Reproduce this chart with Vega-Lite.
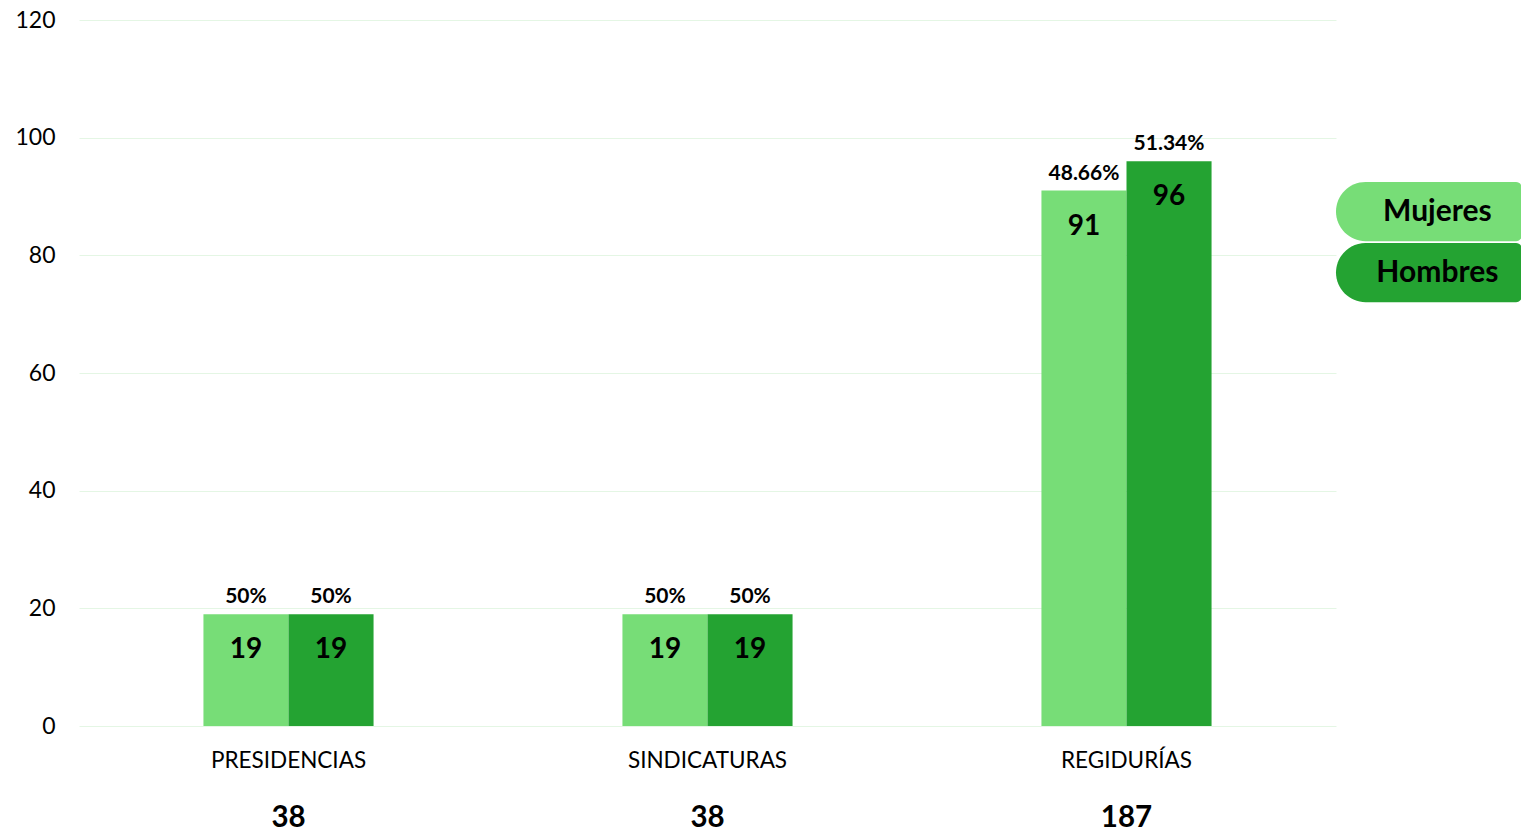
{
  "$schema": "https://vega.github.io/schema/vega-lite/v6.json",
  "background": "white",
  "padding": {"left": 14, "top": 9, "right": 0, "bottom": 0},
  "spacing": 0,
  "config": {
    "view": {"stroke": null},
    "font": "Lato",
    "text": {"font": "Lato"},
    "axis": {"labelFont": "Lato", "labelColor": "black"}
  },
  "datasets": {
    "main": [
      {"cargo": "PRESIDENCIAS", "sexo": "Mujeres", "valor": 19, "pct": 0.5},
      {"cargo": "PRESIDENCIAS", "sexo": "Hombres", "valor": 19, "pct": 0.5},
      {"cargo": "SINDICATURAS", "sexo": "Mujeres", "valor": 19, "pct": 0.5},
      {"cargo": "SINDICATURAS", "sexo": "Hombres", "valor": 19, "pct": 0.5},
      {"cargo": "REGIDURÍAS", "sexo": "Mujeres", "valor": 91, "pct": 0.4866},
      {"cargo": "REGIDURÍAS", "sexo": "Hombres", "valor": 96, "pct": 0.5134}
    ],
    "leyenda": [
      {"sexo": "Mujeres"},
      {"sexo": "Hombres"}
    ]
  },
  "hconcat": [
    {
      "width": 1257,
      "height": 706,
      "data": {"name": "main"},
      "encoding": {
        "x": {
          "field": "cargo", "type": "nominal",
          "sort": ["PRESIDENCIAS", "SINDICATURAS", "REGIDURÍAS"],
          "scale": {"paddingInner": 0.594, "paddingOuter": 0.297},
          "axis": {"title": null, "labelAngle": 0, "ticks": false, "domain": false, "labelFontSize": 22.5, "labelPadding": 23, "grid": false}
        }
      },
      "layer": [
        {
          "mark": {"type": "bar"},
          "encoding": {
            "xOffset": {"field": "sexo", "type": "nominal", "sort": ["Mujeres", "Hombres"], "scale": {"paddingInner": 0, "paddingOuter": 0}},
            "y": {
              "field": "valor", "type": "quantitative",
              "scale": {"domain": [0, 120], "nice": false},
              "axis": {"title": null, "values": [0, 20, 40, 60, 80, 100, 120], "domain": false, "ticks": false, "labelFontSize": 23, "labelPadding": 24, "gridColor": "#e4f6e4", "gridWidth": 1}
            },
            "color": {
              "field": "sexo", "type": "nominal",
              "scale": {"domain": ["Mujeres", "Hombres"], "range": ["#77dd77", "#24a332"]},
              "legend": null
            }
          }
        },
        {
          "mark": {"type": "text", "fontSize": 28, "fontWeight": "bold", "color": "black", "baseline": "middle", "dy": 36},
          "encoding": {
            "xOffset": {"field": "sexo", "type": "nominal", "sort": ["Mujeres", "Hombres"]},
            "y": {"field": "valor", "type": "quantitative"},
            "text": {"field": "valor", "type": "quantitative"}
          }
        },
        {
          "mark": {"type": "text", "fontSize": 21, "fontWeight": "bold", "color": "black", "baseline": "middle", "dy": -17},
          "encoding": {
            "xOffset": {"field": "sexo", "type": "nominal", "sort": ["Mujeres", "Hombres"]},
            "y": {"field": "valor", "type": "quantitative"},
            "text": {"field": "pct", "type": "quantitative", "format": ".2~%"}
          }
        },
        {
          "transform": [{"aggregate": [{"op": "sum", "field": "valor", "as": "total"}], "groupby": ["cargo"]}],
          "mark": {"type": "text", "fontSize": 29.5, "fontWeight": "bold", "color": "black", "baseline": "middle"},
          "encoding": {
            "y": {"datum": -15.6},
            "text": {"field": "total", "type": "quantitative"}
          }
        }
      ]
    },
    {
      "width": 186,
      "height": 706,
      "data": {"name": "leyenda"},
      "encoding": {
        "y": {
          "field": "sexo", "type": "nominal",
          "scale": {"domain": ["_a", "_b", "Mujeres", "Hombres", "_c", "_d", "_e", "_f", "_g", "_h"], "paddingInner": 0.03, "paddingOuter": 0.802, "align": 0.409},
          "axis": null
        }
      },
      "layer": [
        {
          "mark": {"type": "bar", "cornerRadiusTopLeft": 30, "cornerRadiusBottomLeft": 30, "cornerRadiusTopRight": 6, "cornerRadiusBottomRight": 6},
          "encoding": {
            "x": {"datum": 0, "type": "quantitative", "scale": {"domain": [0, 1], "nice": false}, "axis": null},
            "x2": {"datum": 1},
            "color": {
              "field": "sexo", "type": "nominal",
              "scale": {"domain": ["Mujeres", "Hombres"], "range": ["#77dd77", "#24a332"]},
              "legend": null
            }
          }
        },
        {
          "mark": {"type": "text", "fontSize": 30, "fontWeight": "bold", "color": "black", "baseline": "middle", "align": "center"},
          "encoding": {
            "x": {"datum": 0.545, "type": "quantitative", "scale": {"domain": [0, 1], "nice": false}, "axis": null},
            "text": {"field": "sexo", "type": "nominal"}
          }
        }
      ]
    }
  ]
}
